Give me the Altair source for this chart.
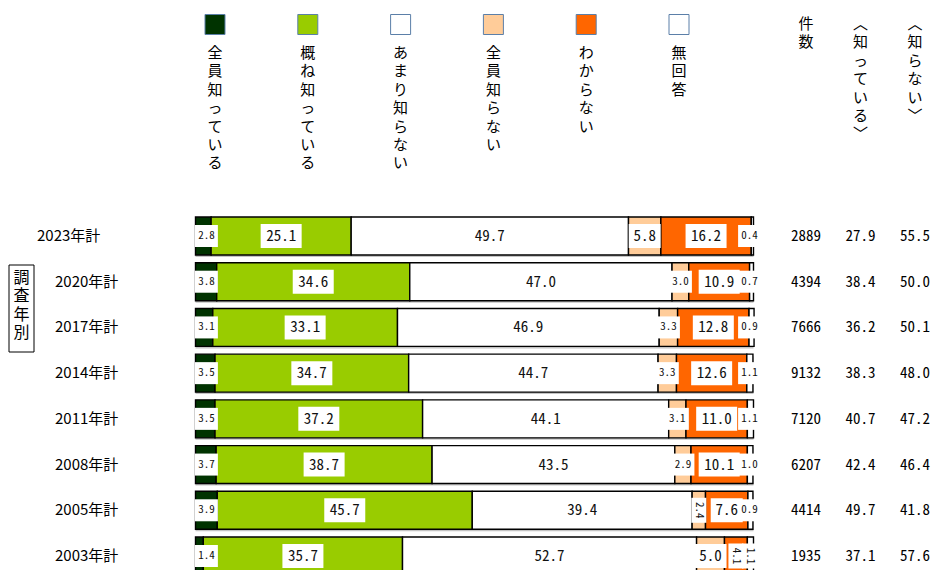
import altair as alt
import pandas as pd

# ---------------- data ----------------
years = ["2023年計", "2020年計", "2017年計", "2014年計", "2011年計", "2008年計", "2005年計", "2003年計"]
categories = ["全員知っている", "概ね知っている", "あまり知らない", "全員知らない", "わからない", "無回答"]
zenin_shitteiru = [2.8, 3.8, 3.1, 3.5, 3.5, 3.7, 3.9, 1.4]
gaine_shitteiru = [25.1, 34.6, 33.1, 34.7, 37.2, 38.7, 45.7, 35.7]
amari_shiranai = [49.7, 47.0, 46.9, 44.7, 44.1, 43.5, 39.4, 52.7]
zenin_shiranai = [5.8, 3.0, 3.3, 3.3, 3.1, 2.9, 2.4, 5.0]
wakaranai = [16.2, 10.9, 12.8, 12.6, 11.0, 10.1, 7.6, 4.1]
mukaitou = [0.4, 0.7, 0.9, 1.1, 1.1, 1.0, 0.9, 1.1]
counts = [2889, 4394, 7666, 9132, 7120, 6207, 4414, 1935]
shitteiru_total = [27.9, 38.4, 36.2, 38.3, 40.7, 42.4, 49.7, 37.1]
shiranai_total = [55.5, 50.0, 50.1, 48.0, 47.2, 46.4, 41.8, 57.6]

colors = ["#003300", "#99CC00", "#FFFFFF", "#FFCC99", "#FF6600", "#FFFFFF"]
right_cols = ["件数", "︿知っている﹀", "︿知らない﹀"]
group_label = "調査年別"
rotated_labels = {("2005年計", "全員知らない"), ("2003年計", "わからない"), ("2003年計", "無回答")}

series = [zenin_shitteiru, gaine_shitteiru, amari_shiranai, zenin_shiranai, wakaranai, mukaitou]

# ---------------- layout constants ----------------
PX_PER_PCT = 5.58
ROW_PX = 45.7
X_SCALE = alt.Scale(domain=[0, 100], range=[187.5, 745.5], nice=False, zero=False)
Y_SCALE = alt.Scale(domain=[0, 7], range=[228, 548], nice=False, zero=False)
BAR_HALF = 0.415
JP = "Noto Sans CJK JP"
MONO = "Noto Sans Mono CJK JP, Noto Sans CJK JP"
CHAR_PITCH = 18.4

# ---------------- tables ----------------
seg_rows, lab_rows = [], []
for i, yr in enumerate(years):
    cum = 0.0
    for j, (cat, s) in enumerate(zip(categories, series)):
        v = s[i]
        start, end = cum, cum + v
        cum = end
        seg_rows.append(dict(year=yr, row=i, cat=cat, value=v, start=start, end=end,
                             ylo=i - BAR_HALF, yhi=i + BAR_HALF))
        mid = (start + end) / 2
        if j == 0:
            mid = max(mid, 1.95)
        if j == len(categories) - 1:
            mid = min(mid, 99.3)
        txt = f"{v:.1f}"
        rot = (yr, cat) in rotated_labels
        big = v >= 5 and not rot
        if rot:
            hw, hh = 7.5, 12.5
        elif big and len(txt) >= 4:
            hw, hh = 20.5, 12
        elif big:
            hw, hh = 16, 12
        else:
            hw, hh = 11.5, 11
        lab_rows.append(dict(year=yr, row=i, cat=cat, text=txt, mid=mid,
                             kind="rot" if rot else ("big" if big else "small"),
                             bx1=mid - hw / PX_PER_PCT, bx2=mid + hw / PX_PER_PCT,
                             by1=i - hh / ROW_PX, by2=i + hh / ROW_PX))
seg = pd.DataFrame(seg_rows)
lab = pd.DataFrame(lab_rows)
bars_df = pd.DataFrame(dict(year=years, row=list(range(len(years))),
                            x0=[0.0] * len(years), x1=[100.0] * len(years),
                            ylo=[i - BAR_HALF for i in range(len(years))],
                            yhi=[i + BAR_HALF for i in range(len(years))]))

right_rows = []
for i, yr in enumerate(years):
    right_rows.append(dict(row=i, col=right_cols[0], text=str(counts[i])))
    right_rows.append(dict(row=i, col=right_cols[1], text=f"{shitteiru_total[i]:.1f}"))
    right_rows.append(dict(row=i, col=right_cols[2], text=f"{shiranai_total[i]:.1f}"))
right_df = pd.DataFrame(right_rows)


def chars_table(labels, key):
    out = []
    for lbl in labels:
        for k, ch in enumerate(lbl):
            out.append({key: lbl, "k": k, "ch": ch})
    return pd.DataFrame(out)


head_chars = chars_table(right_cols, "col")
leg_chars = chars_table(categories, "cat")
grp_chars = chars_table([group_label], "grp")
leg_df = pd.DataFrame(dict(cat=categories))
year_df = pd.DataFrame(dict(year=years, row=list(range(len(years))),
                            first=[i == 0 for i in range(len(years))]))
group_df = pd.DataFrame(dict(text=[group_label]))

X = lambda f: alt.X(f, type="quantitative", scale=X_SCALE, axis=None)
X2 = lambda f: alt.X2(f)
Y = lambda f: alt.Y(f, type="quantitative", scale=Y_SCALE, axis=None)
Y2 = lambda f: alt.Y2(f)


def char_y(top):
    return alt.Y("k:Q", scale=alt.Scale(domain=[0, 1], range=[top, top + CHAR_PITCH],
                                        nice=False, zero=False), axis=None)


color_scale = alt.Scale(domain=categories, range=colors)

shadow = alt.Chart(bars_df).mark_rect(color="#c4c4c4", yOffset=2, y2Offset=2).encode(
    x=X("x0"), x2=X2("x1"), y=Y("ylo"), y2=Y2("yhi"))

bars = alt.Chart(seg).mark_rect(stroke="#000000", strokeWidth=1.4).encode(
    x=X("start"), x2=X2("end"), y=Y("ylo"), y2=Y2("yhi"),
    fill=alt.Fill("cat:N", scale=color_scale, legend=None))

boxes = alt.Chart(lab).mark_rect(fill="#FFFFFF").encode(
    x=X("bx1"), x2=X2("bx2"), y=Y("by1"), y2=Y2("by2"))

big_txt = alt.Chart(lab).transform_filter("datum.kind == 'big'").mark_text(
    font=MONO, fontSize=15, color="#111111", align="center", baseline="middle").encode(
    x=X("mid"), y=Y("row"), text="text:N")

small_txt = alt.Chart(lab).transform_filter("datum.kind == 'small'").mark_text(
    font=MONO, fontSize=11, color="#111111", align="center", baseline="middle").encode(
    x=X("mid"), y=Y("row"), text="text:N")

rot_txt = alt.Chart(lab).transform_filter("datum.kind == 'rot'").mark_text(
    font=MONO, fontSize=11, color="#111111", align="center", baseline="middle", angle=90).encode(
    x=X("mid"), y=Y("row"), text="text:N")

year_first = alt.Chart(year_df).transform_filter("datum.first").mark_text(
    font=JP, fontSize=15, color="#000000", align="left", baseline="middle").encode(
    x=alt.value(29), y=Y("row"), text="year:N")
year_rest = alt.Chart(year_df).transform_filter("!datum.first").mark_text(
    font=JP, fontSize=15, color="#000000", align="left", baseline="middle").encode(
    x=alt.value(47), y=Y("row"), text="year:N")

col_scale = alt.Scale(domain=right_cols, range=[798, 907], padding=0)
right_vals = alt.Chart(right_df).mark_text(
    font=MONO, fontSize=15, color="#000000", align="center", baseline="middle").encode(
    x=alt.X("col:N", scale=col_scale, axis=None), y=Y("row"), text="text:N")
heads = alt.Chart(head_chars).mark_text(
    font=JP, fontSize=15, color="#000000", align="center", baseline="middle").encode(
    x=alt.X("col:N", scale=col_scale, axis=None), y=char_y(16), text="ch:N")

leg_scale = alt.Scale(domain=categories, range=[207, 671], padding=0)
leg_sq = alt.Chart(leg_df).mark_point(shape="square", size=400, filled=True, opacity=1,
                                      stroke="#5B7FA8", strokeWidth=1).encode(
    x=alt.X("cat:N", scale=leg_scale, axis=None), y=alt.value(16.5),
    fill=alt.Fill("cat:N", scale=color_scale, legend=None))
leg_txt = alt.Chart(leg_chars).mark_text(
    font=JP, fontSize=15, color="#000000", align="center", baseline="middle").encode(
    x=alt.X("cat:N", scale=leg_scale, axis=None), y=char_y(45), text="ch:N")

grp_box = alt.Chart(group_df).mark_rect(fill="#FFFFFF", stroke="#000000", strokeWidth=1).encode(
    x=alt.value(1), x2=alt.value(26), y=alt.value(257), y2=alt.value(344))
grp_txt = alt.Chart(grp_chars).mark_text(
    font=JP, fontSize=16, color="#000000", align="center", baseline="middle").encode(
    x=alt.value(13.5), y=char_y(270), text="ch:N")

chart = alt.layer(
    shadow, bars, boxes, big_txt, small_txt, rot_txt, year_first, year_rest,
    right_vals, heads, leg_sq, leg_txt, grp_box, grp_txt
).resolve_scale(x="independent", y="independent", fill="independent").properties(
    width=923, height=562, padding=0, autosize="none", background="#FFFFFF"
).configure_view(stroke=None)

chart.save("out.html", embed_options={"renderer": "svg", "actions": False})
